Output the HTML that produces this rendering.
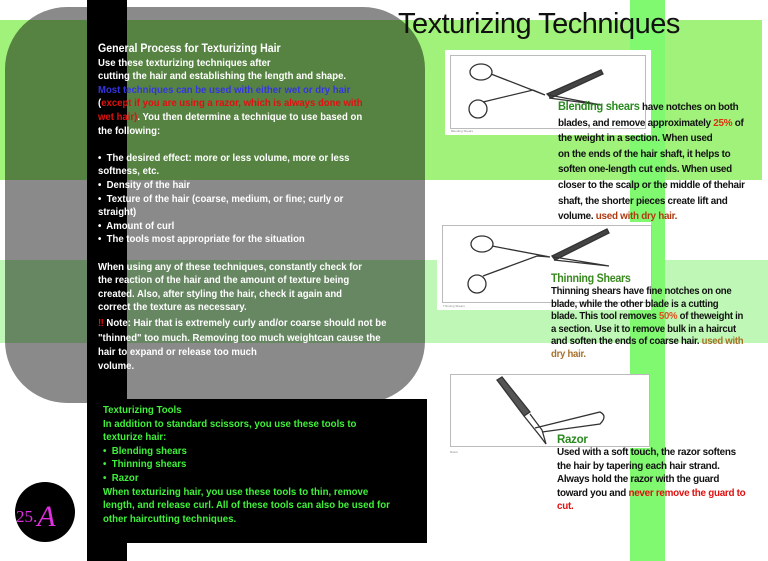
<!DOCTYPE html>
<html><head><meta charset="utf-8"><style>
*{margin:0;padding:0}
body{width:768px;height:561px;position:relative;overflow:hidden;background:#fff;font-family:"Liberation Sans",sans-serif;font-weight:bold}
.a{position:absolute}
.t{font-size:10.4px;line-height:13.6px;white-space:nowrap;transform-origin:0 0}
.r{font-size:10.3px;line-height:15.6px;color:#111;white-space:nowrap;letter-spacing:-0.3px;transform-origin:0 0}
.box{position:absolute;background:#fff}
.box .in{position:absolute;border:1px solid #bbb}
.cap{position:absolute;font-size:3px;color:#888;font-weight:normal}
</style></head><body>
<div class="a" style="left:0;top:20px;width:762px;height:160px;background:#a0f27a"></div>
<div class="a" style="left:0;top:260px;width:768px;height:83px;background:#bff8b6"></div>
<div class="a" style="left:630px;top:0;width:35px;height:561px;background:#80f870"></div>
<div class="a" style="left:5px;top:7px;width:420px;height:396px;border-radius:62px;background:rgba(0,0,0,0.46)"></div>
<div class="a" style="left:87px;top:0;width:40px;height:561px;background:#000"></div>
<div class="a" style="left:87px;top:399px;width:340px;height:144px;background:#000"></div>

<div class="a t" style="left:98px;top:43px;color:#fff;transform:scaleX(0.92)">
<div style="font-size:11.5px">General Process for Texturizing Hair</div>
<div>Use these texturizing techniques after</div>
<div>cutting the hair and establishing the length and shape.</div>
<div style="color:#3535e0">Most techniques can be used with either wet or dry hair</div>
<div>(<span style="color:#e01010">except if you are using a razor, which is always done with</span></div>
<div><span style="color:#e01010">wet hair)</span>. You then determine a technique to use based on</div>
<div>the following:</div>
<div>&nbsp;</div>
<div>•&nbsp; The desired effect: more or less volume, more or less</div>
<div>softness, etc.</div>
<div>•&nbsp; Density of the hair</div>
<div>•&nbsp; Texture of the hair (coarse, medium, or fine; curly or</div>
<div>straight)</div>
<div>•&nbsp; Amount of curl</div>
<div>•&nbsp; The tools most appropriate for the situation</div>
<div>&nbsp;</div>
<div>When using any of these techniques, constantly check for</div>
<div>the reaction of the hair and the amount of texture being</div>
<div>created. Also, after styling the hair, check it again and</div>
<div>correct the texture as necessary.</div>
<div style="margin-top:2px"><span style="color:#e01010">‼</span> Note: Hair that is extremely curly and/or coarse should not be</div>
<div style="margin-top:2px">"thinned" too much. Removing too much weightcan cause the</div>
<div>hair to expand or release too much</div>
<div>volume.</div>
</div>

<div class="a t" style="left:103px;top:404px;color:#3ff03a;transform:scaleX(0.93)">
<div>Texturizing Tools</div>
<div>In addition to standard scissors, you use these tools to</div>
<div>texturize hair:</div>
<div>•&nbsp; Blending shears</div>
<div>•&nbsp; Thinning shears</div>
<div>•&nbsp; Razor</div>
<div>When texturizing hair, you use these tools to thin, remove</div>
<div>length, and release curl. All of these tools can also be used for</div>
<div>other haircutting techniques.</div>
</div>

<div class="a" style="left:15px;top:482px;width:60px;height:60px;border-radius:50%;background:#000"></div>
<div class="a" style="left:16px;top:496px;font-family:'Liberation Serif',serif;font-weight:normal;font-size:17px;color:#e030e0">25.<span style="font-style:italic;font-size:30px;position:relative;top:4px">A</span></div>

<div class="a" style="left:398px;top:8px;font-family:'Liberation Sans',sans-serif;font-weight:normal;font-size:29px;color:#111;letter-spacing:-0.5px">Texturizing Techniques</div>

<div class="box" style="left:445px;top:50px;width:206px;height:85px"><div class="in" style="left:5px;top:5px;width:194px;height:72px"></div><div class="cap" style="left:6px;top:79px">Blending Shears</div>
<svg class="a" style="left:0;top:0" width="206" height="85"><g fill="none" stroke="#333" stroke-width="1.3"><ellipse cx="36" cy="22" rx="11" ry="8"/><ellipse cx="33" cy="59" rx="9" ry="9"/><path d="M46 24 L100 45 M38 52 L88 40 L100 45"/><path d="M102 44 L156 20 L158 24 L106 48Z" fill="#444"/><path d="M104 48 L156 55 L104 45"/></g></svg></div>
<div class="box" style="left:437px;top:222px;width:214px;height:88px"><div class="in" style="left:5px;top:3px;width:208px;height:76px"></div><div class="cap" style="left:6px;top:82px">Thinning Shears</div>
<svg class="a" style="left:0;top:0" width="214" height="88"><g fill="none" stroke="#333" stroke-width="1.3"><ellipse cx="45" cy="22" rx="11" ry="8"/><ellipse cx="40" cy="62" rx="9" ry="9"/><path d="M55 24 L113 35 M46 54 L100 34 L113 35"/><path d="M115 34 L170 7 L172 11 L118 38Z" fill="#444"/><path d="M117 38 L172 44 L117 35"/></g></svg></div>
<div class="box" style="left:450px;top:374px;width:200px;height:74px"><div class="in" style="left:0;top:0;width:198px;height:71px"></div><div class="cap" style="left:0;top:76px">Razor</div>
<svg class="a" style="left:0;top:0" width="200" height="74"><g fill="none" stroke="#333" stroke-width="1.3"><path d="M47 6 L52 3 L80 38 L74 42Z" fill="#555"/><path d="M74 42 L90 62 L96 70 L92 56 L80 40"/><path d="M85 54 L150 38 Q158 42 150 50 L92 58"/></g></svg></div>

<div class="a r" style="left:558px;top:100px;transform:scaleX(0.96)">
<div><span style="color:#2a8a20;font-size:11.5px">Blending shears</span> have notches on both</div>
<div>blades, and remove approximately <span style="color:#e03010">25%</span> of</div>
<div>the weight in a section. When used</div>
<div>on the ends of the hair shaft, it helps to</div>
<div>soften one-length cut ends. When used</div>
<div>closer to the scalp or the middle of thehair</div>
<div>shaft, the shorter pieces create lift and</div>
<div>volume. <span style="color:#b03a10">used with dry hair.</span></div>
</div>
<div class="a r" style="left:551px;top:272px;line-height:12.6px;transform:scaleX(0.93)">
<div style="color:#3a8a20;font-size:11.5px;line-height:14px">Thinning Shears</div>
<div>Thinning shears have fine notches on one</div>
<div>blade, while the other blade is a cutting</div>
<div>blade. This tool removes <span style="color:#e05020">50%</span> of theweight in</div>
<div>a section. Use it to remove bulk in a haircut</div>
<div>and soften the ends of coarse hair. <span style="color:#a8702a">used with</span></div>
<div><span style="color:#a8702a">dry hair.</span></div>
</div>
<div class="a r" style="left:557px;top:432px;line-height:13.6px;transform:scaleX(0.96)">
<div style="color:#2a8a20;font-size:12px;line-height:14px">Razor</div>
<div>Used with a soft touch, the razor softens</div>
<div>the hair by tapering each hair strand.</div>
<div>Always hold the razor with the guard</div>
<div>toward you and <span style="color:#e01010">never remove the guard to</span></div>
<div><span style="color:#e01010">cut.</span></div>
</div>
</body></html>
